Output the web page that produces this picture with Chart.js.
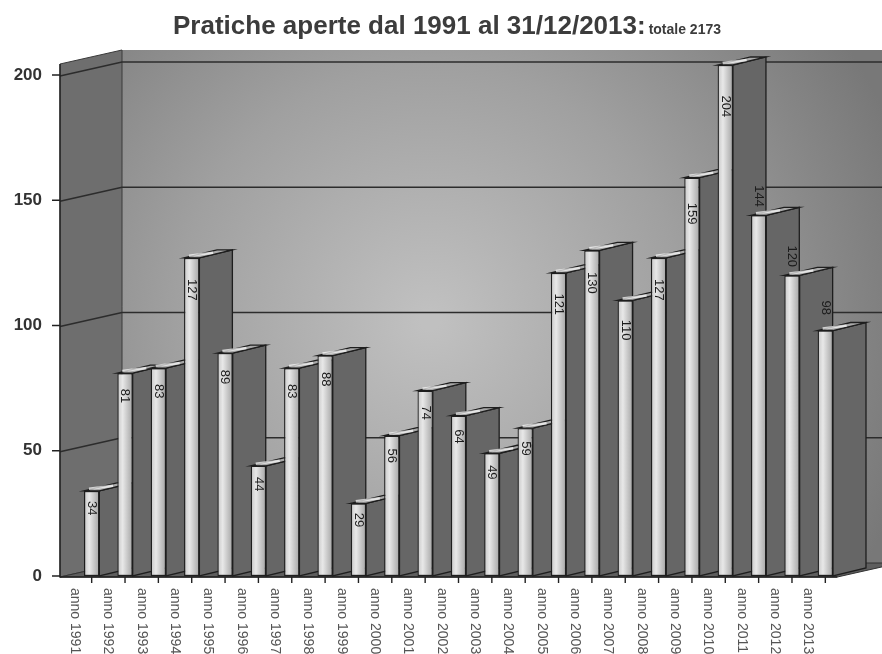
<!DOCTYPE html>
<html>
<head>
<meta charset="utf-8">
<title>Pratiche aperte dal 1991 al 31/12/2013</title>
<script src="https://cdn.jsdelivr.net/npm/chart.js@4.4.1/dist/chart.umd.min.js"></script>
<style>
  html, body { margin: 0; padding: 0; background: #fff; }
  #wrap { width: 882px; height: 654px; }
</style>
</head>
<body>
<div id="wrap"><canvas id="praticheChart" width="882" height="654"></canvas></div>
<script>
const categories = ['anno 1991', 'anno 1992', 'anno 1993', 'anno 1994', 'anno 1995', 'anno 1996',
    'anno 1997', 'anno 1998', 'anno 1999', 'anno 2000', 'anno 2001', 'anno 2002', 'anno 2003',
    'anno 2004', 'anno 2005', 'anno 2006', 'anno 2007', 'anno 2008', 'anno 2009', 'anno 2010',
    'anno 2011', 'anno 2012', 'anno 2013'];
const pratiche = [34, 81, 83, 127, 89, 44, 83, 88, 29, 56, 74, 64, 49, 59,
    121, 130, 110, 127, 159, 204, 144, 120, 98];
const yTicks = [0, 50, 100, 150, 200];
const titleMain = 'Pratiche aperte dal 1991 al 31/12/2013:';
const titleTotal = 'totale 2173';

const FONT = '"Liberation Sans", Arial, sans-serif';
const AXIS_X = 60;          // front edge of the left wall (y axis)
const WALL_DX = 62, WALL_DY = -14;
const BAR_DX = 33, BAR_DY = -8;

// walls, floor, gridlines and axis ticks
const scene3d = {
    id: 'scene3d',
    beforeDraw(chart) {
        const ctx = chart.ctx;
        const xs = chart.scales.x;
        const ys = chart.scales.y;
        const W = chart.width;
        const y0 = ys.getPixelForValue(0) + 1;
        const yTop = ys.getPixelForValue(200) - 11;
        const backL = AXIS_X + WALL_DX;
        const xEnd = xs.getPixelForValue(categories.length - 1) + 12;

        ctx.save();
        // back wall
        const g = ctx.createRadialGradient(430, 320, 10, 430, 320, 500);
        g.addColorStop(0, '#c0c0c0');
        g.addColorStop(0.5, '#a0a0a0');
        g.addColorStop(1, '#787878');
        ctx.fillStyle = g;
        ctx.fillRect(backL, yTop + WALL_DY, W - backL, y0 - yTop);

        // left wall
        ctx.beginPath();
        ctx.moveTo(AXIS_X, yTop);
        ctx.lineTo(backL, yTop + WALL_DY);
        ctx.lineTo(backL, y0 + WALL_DY);
        ctx.lineTo(AXIS_X, y0);
        ctx.closePath();
        ctx.fillStyle = '#6e6e6e';
        ctx.fill();
        ctx.strokeStyle = '#3a3a3a';
        ctx.lineWidth = 1;
        ctx.stroke();

        // floor
        ctx.beginPath();
        ctx.moveTo(AXIS_X, y0);
        ctx.lineTo(backL, y0 + WALL_DY);
        ctx.lineTo(xEnd + WALL_DX, y0 + WALL_DY);
        ctx.lineTo(xEnd, y0);
        ctx.closePath();
        ctx.fillStyle = '#5e5e5e';
        ctx.fill();
        ctx.strokeStyle = '#333';
        ctx.stroke();

        // gridlines on the walls
        ctx.beginPath();
        yTicks.slice(1).forEach(v => {
            const py = ys.getPixelForValue(v) + 1;
            ctx.moveTo(AXIS_X, py);
            ctx.lineTo(backL, py + WALL_DY);
            ctx.lineTo(W, py + WALL_DY);
        });
        ctx.strokeStyle = '#2c2c2c';
        ctx.lineWidth = 1.6;
        ctx.stroke();

        // axis lines and ticks
        ctx.beginPath();
        ctx.moveTo(AXIS_X, yTop);
        ctx.lineTo(AXIS_X, y0);
        ctx.lineTo(xEnd, y0);
        yTicks.forEach(v => {
            const py = ys.getPixelForValue(v);
            ctx.moveTo(AXIS_X - 8, py);
            ctx.lineTo(AXIS_X, py);
        });
        categories.forEach((c, i) => {
            const px = xs.getPixelForValue(i);
            ctx.moveTo(px, y0);
            ctx.lineTo(px, y0 + 6);
        });
        ctx.strokeStyle = '#222';
        ctx.lineWidth = 1.4;
        ctx.stroke();
        ctx.restore();
    },
    // side and top faces of each bar, behind the fronts
    beforeDatasetsDraw(chart) {
        const ctx = chart.ctx;
        const bars = chart.getDatasetMeta(0).data;
        ctx.save();
        bars.forEach(bar => {
            const { x, y, width, base } = bar.getProps(['x', 'y', 'width', 'base'], true);
            const l = x - width / 2, r = x + width / 2;
            ctx.lineWidth = 1.3;
            ctx.strokeStyle = '#1e1e1e';
            ctx.beginPath();
            ctx.moveTo(r, y);
            ctx.lineTo(r + BAR_DX, y + BAR_DY);
            ctx.lineTo(r + BAR_DX, base + BAR_DY);
            ctx.lineTo(r, base);
            ctx.closePath();
            ctx.fillStyle = '#666';
            ctx.fill();
            ctx.stroke();

            ctx.beginPath();
            ctx.moveTo(l, y);
            ctx.lineTo(r, y);
            ctx.lineTo(r + BAR_DX, y + BAR_DY);
            ctx.lineTo(l + BAR_DX, y + BAR_DY);
            ctx.closePath();
            ctx.fillStyle = '#a9a9a9';
            ctx.fill();
            ctx.stroke();
            ctx.beginPath();
            ctx.moveTo(l + 5, y - 2);
            ctx.lineTo(l + BAR_DX - 4, y + BAR_DY + 3);
            ctx.strokeStyle = 'rgba(255,255,255,0.7)';
            ctx.lineWidth = 2.5;
            ctx.stroke();
        });
        ctx.restore();
    },
    afterDatasetsDraw(chart) {
        const ctx = chart.ctx;
        const bars = chart.getDatasetMeta(0).data;
        ctx.save();
        ctx.font = '13px ' + FONT;
        ctx.fillStyle = '#1c1c1c';
        ctx.textAlign = 'left';
        ctx.textBaseline = 'middle';
        bars.forEach((bar, i) => {
            const v = pratiche[i];
            // the last three labels sit above their bars in the original
            const start = i >= 20 ? bar.y - 30 : bar.y + 6 + v * 0.12;
            ctx.save();
            ctx.translate(bar.x, start);
            ctx.rotate(Math.PI / 2);
            ctx.fillText(String(v), 0, 0);
            ctx.restore();
        });
        ctx.restore();
    },
    afterDraw(chart) {
        const ctx = chart.ctx;
        const xs = chart.scales.x;
        ctx.save();
        // category labels, read top to bottom
        ctx.font = '14px ' + FONT;
        ctx.fillStyle = '#555';
        ctx.textAlign = 'left';
        ctx.textBaseline = 'middle';
        categories.forEach((c, i) => {
            ctx.save();
            ctx.translate(xs.getPixelForValue(i) - 17, 588);
            ctx.rotate(Math.PI / 2);
            ctx.fillText(c, 0, 0);
            ctx.restore();
        });

        // title
        ctx.fillStyle = '#3c3c3c';
        ctx.textBaseline = 'alphabetic';
        ctx.font = 'bold 26px ' + FONT;
        ctx.fillText(titleMain, 173, 34);
        const w = ctx.measureText(titleMain).width;
        ctx.font = 'bold 14px ' + FONT;
        ctx.fillText(titleTotal, 173 + w + 3, 34);
        ctx.restore();
    }
};

new Chart(document.getElementById('praticheChart'), {
    type: 'bar',
    data: {
        labels: categories,
        datasets: [{
            label: 'Pratiche aperte',
            data: pratiche,
            backgroundColor: function (c) {
                const xs = c.chart.scales.x;
                if (!xs || c.dataIndex === undefined) return '#d6d6d6';
                const px = xs.getPixelForValue(c.dataIndex);
                if (!isFinite(px)) return '#d6d6d6';
                const g = c.chart.ctx.createLinearGradient(px - 8, 0, px + 8, 0);
                g.addColorStop(0, '#c4c4c4');
                g.addColorStop(0.35, '#e8e8e8');
                g.addColorStop(1, '#a2a2a2');
                return g;
            },
            borderColor: '#1e1e1e',
            borderWidth: 1.3,
            borderSkipped: false,
            categoryPercentage: 1,
            barPercentage: 0.46,
            clip: false
        }]
    },
    options: {
        responsive: false,
        animation: false,
        layout: { padding: { top: 75, right: 40, bottom: 0, left: 0 } },
        plugins: {
            legend: { display: false },
            title: { display: false },
            tooltip: { enabled: false }
        },
        scales: {
            x: {
                offset: true,
                grid: { display: false },
                border: { display: false },
                ticks: { display: false },
                afterFit: s => { s.height = 78; }
            },
            y: {
                min: 0,
                max: 200,
                grid: { display: false, drawTicks: false },
                border: { display: false },
                ticks: {
                    stepSize: 50,
                    padding: 33,
                    color: '#333',
                    font: { family: FONT, size: 17, weight: 'bold' }
                },
                afterFit: s => { s.width = 75; }
            }
        }
    },
    plugins: [scene3d]
});
</script>
</body>
</html>
